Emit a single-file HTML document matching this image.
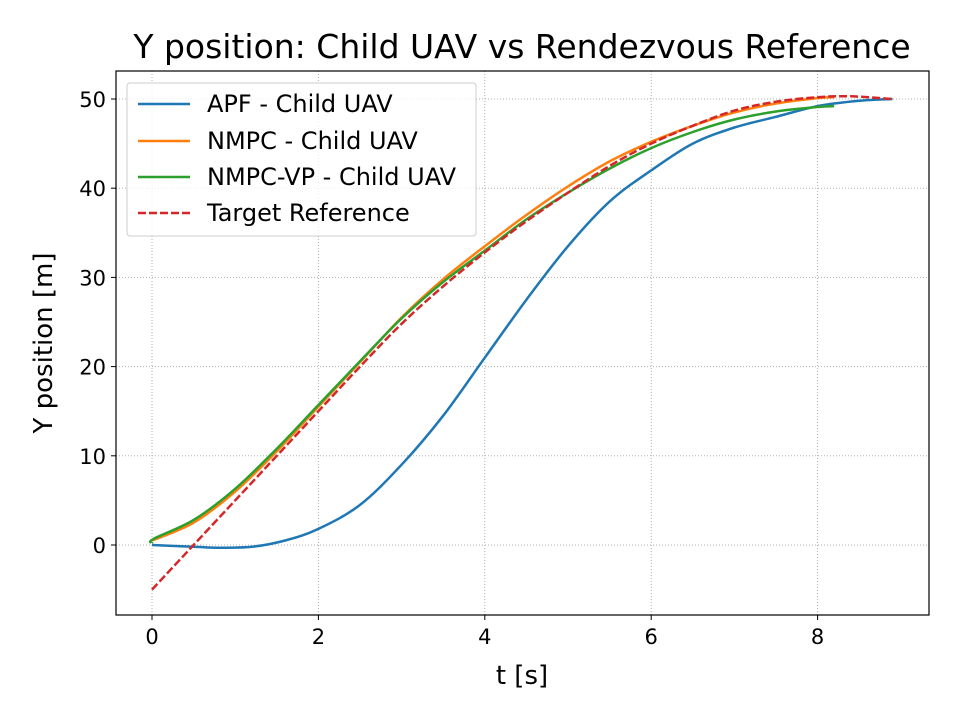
<!DOCTYPE html>
<html><head><meta charset="utf-8"><style>
body{margin:0;background:#fff;}
svg{display:block;font-family:"DejaVu Sans","Liberation Sans",sans-serif;}
</style></head><body>
<svg id="chart" width="960" height="720">
<rect width="960" height="720" fill="#fff"/>
<text x="522" y="58" font-size="33" text-anchor="middle">Y position: Child UAV vs Rendezvous Reference</text>
<g id="grid"></g><g id="series"></g><g id="axes"></g>
<text x="522" y="684" font-size="26" text-anchor="middle">t [s]</text>
<text transform="translate(52,343) rotate(-90)" font-size="26" text-anchor="middle">Y position [m]</text>
<g>
<rect x="127" y="83" width="349" height="153" rx="3" fill="#fff" fill-opacity="0.8" stroke="#ccc"/>
<line x1="138" y1="104" x2="190" y2="104" stroke="#1f77b4" stroke-width="2.5"/>
<text x="207" y="112" font-size="24">APF - Child UAV</text>
<line x1="138" y1="141" x2="190" y2="141" stroke="#ff7f0e" stroke-width="2.5"/>
<text x="207" y="149" font-size="24">NMPC - Child UAV</text>
<line x1="138" y1="177" x2="190" y2="177" stroke="#2ca02c" stroke-width="2.5"/>
<text x="207" y="185" font-size="24">NMPC-VP - Child UAV</text>
<line x1="138" y1="213" x2="190" y2="213" stroke="#d62728" stroke-width="2.5" stroke-dasharray="8,3"/>
<text x="207" y="221" font-size="24">Target Reference</text>
</g>
</svg>
<script>
const xTicks=[0,2,4,6,8];
const yTicks=[0,10,20,30,40,50];
const apfT=[0,0.5,0.8,1.2,1.6,2,2.5,3,3.5,4,4.5,5,5.5,6,6.5,7,7.5,8,8.5,8.9];
const apfY=[0,-0.2,-0.3,-0.2,0.5,1.8,4.5,9,14.5,21,27.5,33.5,38.5,42,45,46.8,48,49.2,49.8,50];
const nmpcT=[0,0.5,1,1.5,2,2.5,3,3.5,4,4.5,5,5.5,6,6.5,7,7.5,8,8.2];
const nmpcY=[0.5,2.5,6,10.5,15.5,20.5,25.5,29.8,33.5,37,40.2,43,45.2,47,48.5,49.5,50.1,50.2];
const vpT=[0,0.02,0.5,1,1.5,2,2.5,3,3.5,4,4.5,5,5.5,6,6.5,7,7.5,8,8.2];
const vpY=[0.2,0.7,2.8,6.3,10.8,15.7,20.6,25.4,29.5,33,36.5,39.5,42.2,44.5,46.3,47.7,48.6,49.1,49.2];
const tgtT=[0,0.5,1,1.5,2,2.5,3,3.5,4,4.5,5,5.5,6,6.5,7,7.5,8,8.4,8.9];
const tgtY=[-5,0,5,10,15,20,24.8,29,32.8,36.3,39.5,42.5,45,47,48.7,49.7,50.2,50.3,50];
const L=116,R=929,T=71,B=615;
const X=v=>152+v*83.2, Y=v=>545-v*8.92;
const NS="http://www.w3.org/2000/svg";
function mk(tag,attrs,parent){const e=document.createElementNS(NS,tag);for(const k in attrs)e.setAttribute(k,attrs[k]);parent.appendChild(e);return e;}
const g=document.getElementById('grid'),s=document.getElementById('series'),a=document.getElementById('axes');
xTicks.forEach(t=>{
 const l=mk('line',{x1:X(t),x2:X(t),y1:T,y2:B,stroke:'#b0b0b0','stroke-width':1,'stroke-dasharray':'1,2'},g);
 
 
 mk('line',{x1:X(t),x2:X(t),y1:B,y2:B+5,stroke:'#000'},a);
 const tx=mk('text',{x:X(t),y:B+29,'font-size':21,'text-anchor':'middle'},a);tx.textContent=t;
 
 
});
yTicks.forEach(t=>{
 const l=mk('line',{x1:L,x2:R,y1:Y(t),y2:Y(t),stroke:'#b0b0b0','stroke-width':1,'stroke-dasharray':'1,2'},g);
 
 
 mk('line',{x1:L-5,x2:L,y1:Y(t),y2:Y(t),stroke:'#000'},a);
 const tx=mk('text',{x:L-10,y:Y(t)+8,'font-size':21,'text-anchor':'end'},a);tx.textContent=t;
 
 
});
const fr=mk('rect',{x:L,y:T,width:R-L,height:B-T,fill:'none',stroke:'#000','stroke-width':1.2},a);


function line(ts,ys,color,dash,name){
 const P=ts.map((t,i)=>[X(t),Y(ys[i])]);
 let d='M'+P[0][0].toFixed(1)+','+P[0][1].toFixed(1);
 for(let i=0;i<P.length-1;i++){
  const p0=P[Math.max(0,i-1)],p1=P[i],p2=P[i+1],p3=P[Math.min(P.length-1,i+2)];
  const c1=[p1[0]+(p2[0]-p0[0])/6,p1[1]+(p2[1]-p0[1])/6];
  const c2=[p2[0]-(p3[0]-p1[0])/6,p2[1]-(p3[1]-p1[1])/6];
  d+='C'+c1[0].toFixed(1)+','+c1[1].toFixed(1)+' '+c2[0].toFixed(1)+','+c2[1].toFixed(1)+' '+p2[0].toFixed(1)+','+p2[1].toFixed(1);
 }
 const p=mk('path',{d:d,fill:'none',stroke:color,'stroke-width':2.5,'stroke-linejoin':'round'},s);
 if(dash)p.setAttribute('stroke-dasharray',dash);
 
 
}
line(apfT,apfY,'#1f77b4',null,'apf-line');
line(nmpcT,nmpcY,'#ff7f0e',null,'nmpc-line');
line(vpT,vpY,'#2ca02c',null,'nmpc-vp-line');
line(tgtT,tgtY,'#d62728','8,3','target-reference-line');
</script>
</body></html>
